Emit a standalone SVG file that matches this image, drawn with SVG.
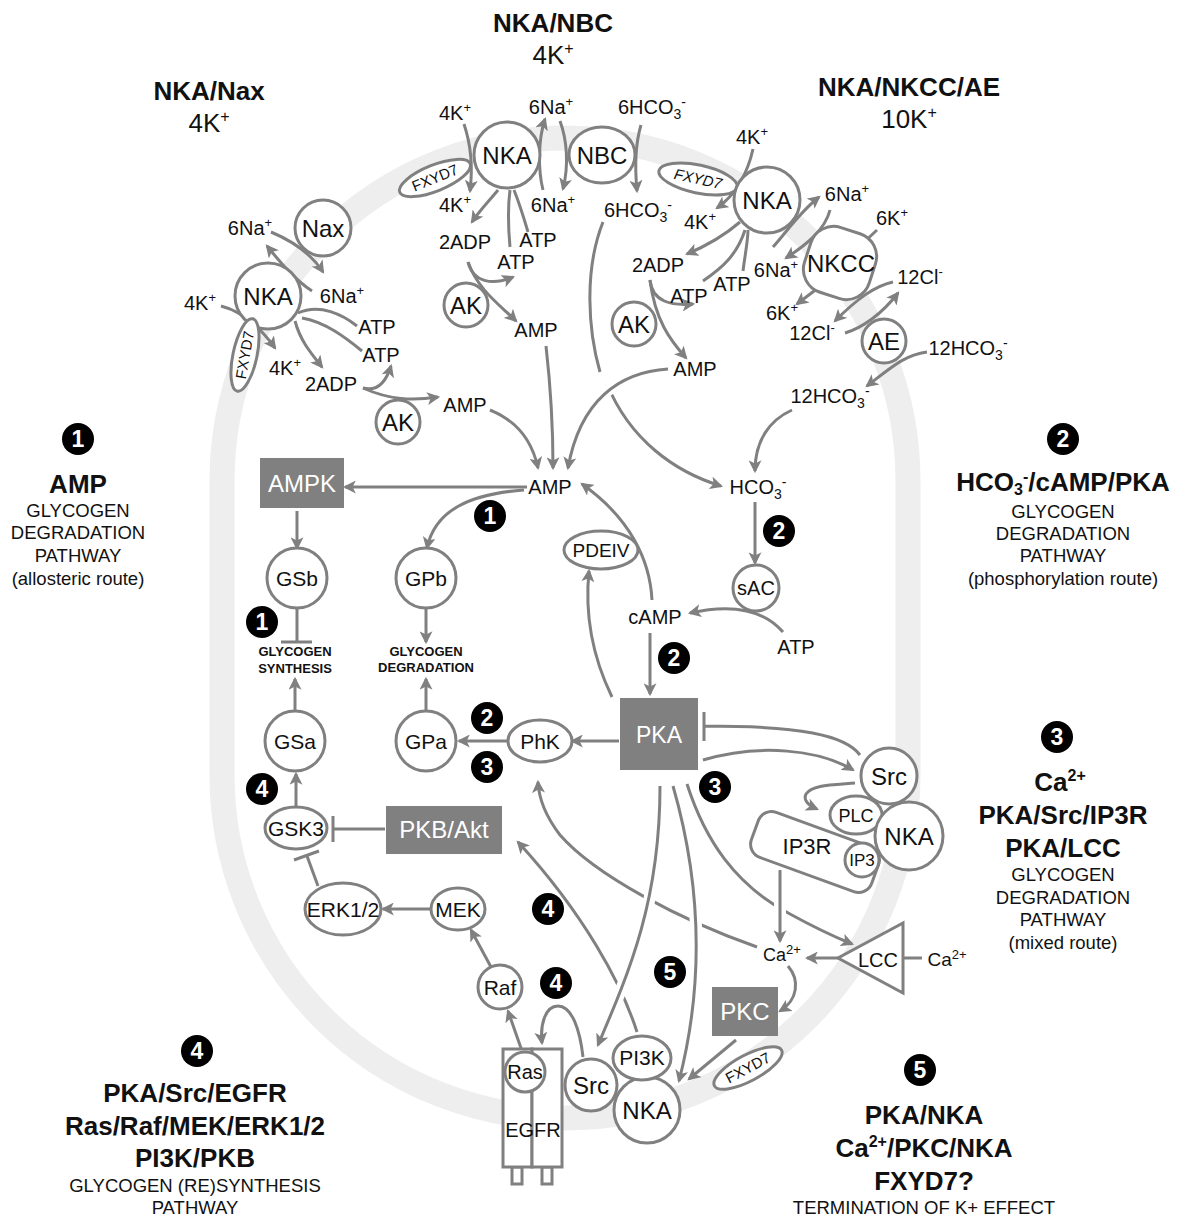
<svg xmlns="http://www.w3.org/2000/svg" width="1187" height="1218" viewBox="0 0 1187 1218">
<defs>
<marker id="ah" viewBox="0 0 12 12" refX="10" refY="6" markerWidth="13" markerHeight="13" markerUnits="userSpaceOnUse" orient="auto">
<path d="M0,0 L12,6 L0,12 L3,6 z" fill="#808080"/>
</marker>
<style>
text{font-family:"Liberation Sans",Arial,Helvetica,sans-serif;fill:#111}
.n{fill:#fff;stroke:#808080;stroke-width:3}
.bx{fill:#808080}
.c{fill:none;stroke:#808080;stroke-width:3}
.a{marker-end:url(#ah)}
.h{fill:none;stroke:#fff;stroke-width:12}
.m{text-anchor:middle}
.l{font-size:20px}
.nd{font-size:24px}
.s{font-size:21px}
.w{fill:#fff}
.bd{font-weight:bold}
.ttl{font-size:26px}
.sub{font-size:18.5px}
.sm{font-size:13px;font-weight:bold}
.fx{font-size:15px}
.bg{fill:#000}
.bn{fill:#fff;font-size:23px;font-weight:bold;text-anchor:middle}
</style>
</defs>
<rect width="1187" height="1218" fill="#fff"/>

<!-- membrane -->
<path id="membrane" d="M 222 481 A 343 343 0 0 1 908 481 L 908 775 A 343 343 0 0 1 222 775 Z" fill="none" stroke="#eeeeee" stroke-width="25"/>

<!-- titles / panels -->
<g id="titles">
<text x="553" y="32" class="m ttl bd">NKA/NBC</text>
<text x="553" y="64" class="m ttl">4K<tspan dy="-10" font-size="16">+</tspan></text>
<text x="209" y="100" class="m ttl bd">NKA/Nax</text>
<text x="209" y="132" class="m ttl">4K<tspan dy="-10" font-size="16">+</tspan></text>
<text x="909" y="96" class="m ttl bd">NKA/NKCC/AE</text>
<text x="909" y="128" class="m ttl">10K<tspan dy="-10" font-size="16">+</tspan></text>
</g>

<g id="panel1">
<circle cx="78" cy="439" r="16" class="bg"/><text x="78" y="447" class="bn">1</text>
<text x="78" y="493" class="m ttl bd">AMP</text>
<text x="78" y="517" class="m sub">GLYCOGEN</text>
<text x="78" y="539" class="m sub">DEGRADATION</text>
<text x="78" y="562" class="m sub">PATHWAY</text>
<text x="78" y="585" class="m sub">(allosteric route)</text>
</g>
<g id="panel2">
<circle cx="1063" cy="439" r="16" class="bg"/><text x="1063" y="447" class="bn">2</text>
<text x="1063" y="491" class="m ttl bd">HCO<tspan dy="4" font-size="16">3</tspan><tspan dy="-13" font-size="16">-</tspan><tspan dy="9">/cAMP/PKA</tspan></text>
<text x="1063" y="518" class="m sub">GLYCOGEN</text>
<text x="1063" y="540" class="m sub">DEGRADATION</text>
<text x="1063" y="562" class="m sub">PATHWAY</text>
<text x="1063" y="585" class="m sub">(phosphorylation route)</text>
</g>
<g id="panel3">
<circle cx="1057" cy="737" r="16" class="bg"/><text x="1057" y="745" class="bn">3</text>
<text x="1060" y="791" class="m ttl bd">Ca<tspan dy="-10" font-size="16">2+</tspan></text>
<text x="1063" y="824" class="m ttl bd">PKA/Src/IP3R</text>
<text x="1063" y="857" class="m ttl bd">PKA/LCC</text>
<text x="1063" y="881" class="m sub">GLYCOGEN</text>
<text x="1063" y="904" class="m sub">DEGRADATION</text>
<text x="1063" y="926" class="m sub">PATHWAY</text>
<text x="1063" y="949" class="m sub">(mixed route)</text>
</g>
<g id="panel4">
<circle cx="197" cy="1051" r="16" class="bg"/><text x="197" y="1059" class="bn">4</text>
<text x="195" y="1102" class="m ttl bd">PKA/Src/EGFR</text>
<text x="195" y="1135" class="m ttl bd">Ras/Raf/MEK/ERK1/2</text>
<text x="195" y="1167" class="m ttl bd">PI3K/PKB</text>
<text x="195" y="1192" class="m sub">GLYCOGEN (RE)SYNTHESIS</text>
<text x="195" y="1214" class="m sub">PATHWAY</text>
</g>
<g id="panel5">
<circle cx="920" cy="1070" r="16" class="bg"/><text x="920" y="1078" class="bn">5</text>
<text x="924" y="1124" class="m ttl bd">PKA/NKA</text>
<text x="924" y="1157" class="m ttl bd">Ca<tspan dy="-10" font-size="16">2+</tspan><tspan dy="10">/PKC/NKA</tspan></text>
<text x="924" y="1190" class="m ttl bd">FXYD7?</text>
<text x="924" y="1214" class="m sub">TERMINATION OF K+ EFFECT</text>
</g>

<!-- connectors -->
<g id="connectors">
<path class="c a" d="M 312 291 C 295 280 280 262 267 246"/>
<path class="c a" d="M 271 232 C 295 242 312 255 323 272"/>
<path class="c a" d="M 221 306 C 245 312 262 330 275 348"/>
<path class="c" d="M 298 313 C 320 303 343 315 357 326"/>
<path class="c" d="M 302 318 C 325 322 345 337 362 351"/>
<path class="c a" d="M 295 321 C 300 340 310 352 322 367"/>
<path class="c a" d="M 363 388 C 378 392 386 382 391 366"/>
<path class="c a" d="M 363 388 C 390 400 412 401 438 397"/>
<path class="c a" d="M 490 410 C 515 420 532 440 538 468"/>
<path class="c a" d="M 464 124 C 471 145 473 167 470 191"/>
<path class="c a" d="M 543 190 C 538 170 538 140 545 119"/>
<path class="c a" d="M 560 121 C 567 140 569 165 563 189"/>
<path class="c a" d="M 641 125 C 635 145 635 170 637 191"/>
<path class="c a" d="M 498 190 C 490 200 480 210 472 222"/>
<path class="c" d="M 510 247 C 508 225 508 205 510 190"/>
<path class="c" d="M 528 232 C 523 215 518 200 514 190"/>
<path class="c a" d="M 468 262 C 473 282 492 286 513 277"/>
<path class="c a" d="M 468 262 C 478 290 500 305 516 321"/>
<path class="c a" d="M 546 346 C 551 390 553 430 553 468"/>
<path class="c a" d="M 753 149 C 748 172 736 195 717 208"/>
<path class="c a" d="M 773 247 C 788 230 800 212 819 197"/>
<path class="c a" d="M 830 210 C 825 230 806 245 786 258"/>
<path class="c" d="M 877 230 L 862 244"/>
<path class="c a" d="M 818 288 L 797 304"/>
<path class="c a" d="M 893 282 C 875 286 858 298 835 321"/>
<path class="c a" d="M 845 333 C 862 328 882 314 898 293"/>
<path class="c a" d="M 927 352 C 905 355 893 366 867 386"/>
<path class="c a" d="M 740 222 C 725 235 706 246 687 254"/>
<path class="c" d="M 703 281 C 722 268 737 255 745 230"/>
<path class="c" d="M 743 271 C 745 255 748 240 748 230"/>
<path class="c a" d="M 650 280 C 652 302 672 306 693 304"/>
<path class="c a" d="M 650 280 C 655 320 670 340 686 358"/>
<path class="c" d="M 603 222 C 584 270 588 330 600 372"/>
<path class="c a" d="M 607 384 C 630 440 675 472 721 486"/>
<path class="h" d="M 668 369 C 620 372 582 400 572 450"/>
<path class="c a" d="M 668 369 C 620 372 580 400 568 468"/>
<path class="c a" d="M 792 410 C 770 420 755 440 755 471"/>
<path class="c a" d="M 527 487 L 345 487"/>
<path class="c a" d="M 524 490 C 470 494 435 510 427 548"/>
<path class="c a" d="M 297 511 L 297 548"/>
<path class="c" d="M 297 609 L 297 642 M 281 642 L 312 642"/>
<path class="c a" d="M 295 710 L 295 679"/>
<path class="c a" d="M 426 609 L 426 642"/>
<path class="c a" d="M 426 710 L 426 679"/>
<path class="c a" d="M 755 502 L 755 563"/>
<path class="c a" d="M 783 632 C 762 608 730 604 690 613"/>
<path class="c a" d="M 650 633 L 650 694"/>
<path class="c a" d="M 652 600 C 650 560 630 518 582 484"/>
<path class="c a" d="M 612 697 C 594 660 584 620 589 571"/>
<path class="c a" d="M 619 741 L 572 741"/>
<path class="c a" d="M 508 741 L 459 741"/>
<path class="c a" d="M 296 807 L 296 774"/>
<path class="c" d="M 385 829 L 334 829 M 333 816 L 333 842"/>
<path class="c" d="M 318 886 L 307 856 M 294 860 L 319 851"/>
<path class="c a" d="M 430 909 L 383 909"/>
<path class="c a" d="M 491 967 L 471 930"/>
<path class="c a" d="M 522 1051 L 508 1011"/>
<path class="c a" d="M 583 1057 C 580 1030 572 1006 558 1006 C 545 1006 540 1025 542 1043"/>
<path class="c a" d="M 757 947 C 680 920 595 875 560 835 C 547 818 539 802 538 782"/>
<path class="c a" d="M 637 1032 C 622 985 585 915 518 842"/>
<path class="h" d="M 660 800 C 660 900 630 970 602 1035"/>
<path class="c a" d="M 660 786 C 660 900 630 970 598 1045"/>
<path class="h" d="M 673 800 C 700 880 705 980 682 1070"/>
<path class="c a" d="M 673 786 C 700 880 705 980 679 1081"/>
<path class="c a" d="M 687 784 C 705 840 735 885 790 914 C 810 925 830 935 852 944"/>
<path class="h" d="M 780 872 L 780 930"/>
<path class="c a" d="M 780 870 L 780 941"/>
<path class="c a" d="M 703 760 C 760 743 820 750 853 770"/>
<path class="c" d="M 860 755 C 845 735 800 726 705 726 M 704 712 L 704 741"/>
<path class="c a" d="M 855 783 C 830 785 812 785 806 794 C 803 800 808 805 817 809"/>
<path class="c a" d="M 838 958 L 807 958"/>
<path class="c" d="M 903 958 L 922 958"/>
<path class="c a" d="M 788 966 C 800 980 798 1000 780 1011"/>
<path class="c a" d="M 736 1040 L 689 1079"/>
</g>

<g id="nax"><circle cx="323" cy="228" r="28" class="n"/><text x="323" y="237" class="m nd">Nax</text></g>
<g id="nka1"><circle cx="268" cy="296" r="33" class="n"/><text x="268" y="305" class="m nd">NKA</text></g>
<g id="fxyd7a"><ellipse cx="245" cy="355" rx="37" ry="12" transform="rotate(-78 245 355)" class="n"/><text x="245" y="360" class="m fx" transform="rotate(-80 245 355)">FXYD7</text></g>
<g id="ak1"><circle cx="398" cy="422" r="22" class="n"/><text x="398" y="431" class="m nd">AK</text></g>
<g id="lbl-tl">
<text x="250" y="235" class="m l">6Na<tspan dy="-8" font-size="13">+</tspan></text>
<text x="342" y="303" class="m l">6Na<tspan dy="-8" font-size="13">+</tspan></text>
<text x="200" y="310" class="m l">4K<tspan dy="-8" font-size="13">+</tspan></text>
<text x="285" y="375" class="m l">4K<tspan dy="-8" font-size="13">+</tspan></text>
<text x="377" y="334" class="m l">ATP</text>
<text x="381" y="362" class="m l">ATP</text>
<text x="331" y="391" class="m l">2ADP</text>
<text x="465" y="412" class="m l">AMP</text>
</g>

<g id="fxyd7b"><ellipse cx="435" cy="178" rx="38" ry="13" transform="rotate(-22 435 178)" class="n"/><text x="435" y="183" class="m fx" transform="rotate(-22 435 178)">FXYD7</text></g>
<g id="nka2"><circle cx="507" cy="155" r="33" class="n"/><text x="507" y="164" class="m nd">NKA</text></g>
<g id="nbc"><ellipse cx="602" cy="155" rx="33" ry="28" class="n"/><text x="602" y="164" class="m nd">NBC</text></g>
<g id="ak2"><circle cx="466" cy="305" r="22" class="n"/><text x="466" y="314" class="m nd">AK</text></g>
<g id="lbl-tc">
<text x="455" y="120" class="m l">4K<tspan dy="-8" font-size="13">+</tspan></text>
<text x="551" y="114" class="m l">6Na<tspan dy="-8" font-size="13">+</tspan></text>
<text x="652" y="114" class="m l">6HCO<tspan dy="5" font-size="14">3</tspan><tspan dy="-12" font-size="14">-</tspan></text>
<text x="455" y="212" class="m l">4K<tspan dy="-8" font-size="13">+</tspan></text>
<text x="553" y="212" class="m l">6Na<tspan dy="-8" font-size="13">+</tspan></text>
<text x="638" y="217" class="m l">6HCO<tspan dy="5" font-size="14">3</tspan><tspan dy="-12" font-size="14">-</tspan></text>
<text x="465" y="249" class="m l">2ADP</text>
<text x="538" y="247" class="m l">ATP</text>
<text x="516" y="269" class="m l">ATP</text>
<text x="536" y="337" class="m l">AMP</text>
</g>

<g id="fxyd7c"><ellipse cx="698" cy="179" rx="40" ry="14" transform="rotate(12 698 179)" class="n"/><text x="698" y="184" class="m fx" transform="rotate(12 698 179)" font-style="italic">FXYD7</text></g>
<g id="nka3"><circle cx="767" cy="200" r="33" class="n"/><text x="767" y="209" class="m nd">NKA</text></g>
<g id="nkcc"><rect x="806" y="229" width="68" height="68" rx="24" transform="rotate(18 840 263)" class="n"/><text x="841" y="272" class="m nd">NKCC</text></g>
<g id="ae"><circle cx="884" cy="341" r="22" class="n"/><text x="884" y="350" class="m nd">AE</text></g>
<g id="ak3"><circle cx="634" cy="324" r="22" class="n"/><text x="634" y="333" class="m nd">AK</text></g>
<g id="lbl-tr">
<text x="752" y="144" class="m l">4K<tspan dy="-8" font-size="13">+</tspan></text>
<text x="700" y="229" class="m l">4K<tspan dy="-8" font-size="13">+</tspan></text>
<text x="847" y="201" class="m l">6Na<tspan dy="-8" font-size="13">+</tspan></text>
<text x="892" y="225" class="m l">6K<tspan dy="-8" font-size="13">+</tspan></text>
<text x="776" y="277" class="m l">6Na<tspan dy="-8" font-size="13">+</tspan></text>
<text x="658" y="272" class="m l">2ADP</text>
<text x="689" y="303" class="m l">ATP</text>
<text x="732" y="291" class="m l">ATP</text>
<text x="920" y="284" class="m l">12Cl<tspan dy="-8" font-size="13">-</tspan></text>
<text x="782" y="320" class="m l">6K<tspan dy="-8" font-size="13">+</tspan></text>
<text x="812" y="340" class="m l">12Cl<tspan dy="-8" font-size="13">-</tspan></text>
<text x="968" y="355" class="m l">12HCO<tspan dy="5" font-size="14">3</tspan><tspan dy="-12" font-size="14">-</tspan></text>
<text x="830" y="403" class="m l">12HCO<tspan dy="5" font-size="14">3</tspan><tspan dy="-12" font-size="14">-</tspan></text>
<text x="695" y="376" class="m l">AMP</text>
</g>

<g id="amp"><text x="550" y="494" class="m l">AMP</text></g>
<g id="hco3"><text x="758" y="494" class="m l">HCO<tspan dy="5" font-size="14">3</tspan><tspan dy="-12" font-size="14">-</tspan></text></g>
<g id="ampk"><rect x="260" y="458" width="84" height="50" class="bx"/><text x="302" y="492" class="m nd w">AMPK</text></g>
<g id="gsb"><circle cx="297" cy="578" r="30" class="n"/><text x="297" y="586" class="m s">GSb</text></g>
<g id="gpb"><circle cx="426" cy="578" r="30" class="n"/><text x="426" y="586" class="m s">GPb</text></g>
<g id="gsyn"><text x="295" y="656" class="m sm">GLYCOGEN</text><text x="295" y="673" class="m sm">SYNTHESIS</text></g>
<g id="gdeg"><text x="426" y="656" class="m sm">GLYCOGEN</text><text x="426" y="672" class="m sm">DEGRADATION</text></g>
<g id="gsa"><circle cx="295" cy="741" r="30" class="n"/><text x="295" y="749" class="m s">GSa</text></g>
<g id="gpa"><circle cx="426" cy="741" r="30" class="n"/><text x="426" y="749" class="m s">GPa</text></g>
<g id="phk"><ellipse cx="540" cy="741" rx="32" ry="21" class="n"/><text x="540" y="749" class="m s">PhK</text></g>
<g id="pdeiv"><ellipse cx="601" cy="550" rx="37" ry="19" class="n"/><text x="601" y="557" class="m" font-size="19">PDEIV</text></g>
<g id="camp"><text x="655" y="624" class="m l">cAMP</text></g>
<g id="sac"><circle cx="756" cy="588" r="23" class="n"/><text x="756" y="595" class="m l">sAC</text></g>
<g id="atp-c"><text x="796" y="654" class="m l">ATP</text></g>
<g id="pka"><rect x="620" y="698" width="78" height="72" class="bx"/><text x="659" y="743" class="m w" font-size="23">PKA</text></g>
<g id="gsk3"><ellipse cx="296" cy="828" rx="31" ry="21" class="n"/><text x="296" y="836" class="m s">GSK3</text></g>
<g id="pkb"><rect x="386" y="806" width="116" height="48" class="bx"/><text x="444" y="838" class="m nd w">PKB/Akt</text></g>
<g id="erk"><ellipse cx="343" cy="909" rx="38" ry="26" class="n"/><text x="343" y="917" class="m s">ERK1/2</text></g>
<g id="mek"><ellipse cx="458" cy="909" rx="27" ry="21" class="n"/><text x="458" y="917" class="m s">MEK</text></g>
<g id="raf"><circle cx="500" cy="987" r="22" class="n"/><text x="500" y="995" class="m s">Raf</text></g>

<g id="ip3r"><rect x="751" y="828" width="128" height="48" rx="14" transform="rotate(20 815 852)" class="n"/><text x="807" y="854" class="m" font-size="22">IP3R</text></g>
<g id="plc"><ellipse cx="856" cy="815" rx="26" ry="19" class="n"/><text x="856" y="822" class="m" font-size="18">PLC</text></g>
<g id="ip3"><circle cx="862" cy="860" r="17" class="n"/><text x="862" y="866" class="m" font-size="17">IP3</text></g>
<g id="nka4"><circle cx="909" cy="836" r="34" class="n"/><text x="909" y="845" class="m nd">NKA</text></g>
<g id="src1"><circle cx="889" cy="776" r="28" class="n"/><text x="889" y="785" class="m nd">Src</text></g>
<g id="ca1"><text x="782" y="961" class="m" font-size="18">Ca<tspan dy="-7" font-size="13">2+</tspan></text></g>
<g id="lcc"><polygon points="903,923 903,993 838,958" class="n"/><text x="878" y="967" class="m l">LCC</text></g>
<g id="ca2"><text x="947" y="966" class="m" font-size="19">Ca<tspan dy="-7" font-size="13">2+</tspan></text></g>
<g id="pkc"><rect x="712" y="987" width="66" height="49" class="bx"/><text x="745" y="1020" class="m nd w">PKC</text></g>

<g id="egfr">
<rect x="512" y="1167" width="10" height="17" class="n"/>
<rect x="542" y="1167" width="10" height="17" class="n"/>
<rect x="503" y="1049" width="29" height="118" class="n"/>
<rect x="532" y="1049" width="30" height="118" class="n"/>
<text x="533" y="1137" class="m l">EGFR</text>
</g>
<g id="ras"><circle cx="525" cy="1072" r="20" class="n"/><text x="525" y="1079" class="m l">Ras</text></g>
<g id="src2"><circle cx="591" cy="1085" r="26" class="n"/><text x="591" y="1094" class="m nd">Src</text></g>
<g id="nka5"><circle cx="647" cy="1110" r="33" class="n"/><text x="647" y="1119" class="m nd">NKA</text></g>
<g id="pi3k"><ellipse cx="642" cy="1058" rx="29" ry="22" class="n"/><text x="642" y="1065" class="m s">PI3K</text></g>
<g id="fxyd7d"><ellipse cx="748" cy="1068" rx="38" ry="13" transform="rotate(-28 748 1068)" class="n"/><text x="748" y="1073" class="m fx" transform="rotate(-28 748 1068)">FXYD7</text></g>

<g id="badges">
<circle cx="490" cy="516" r="16" class="bg"/><text x="490" y="524" class="bn">1</text>
<circle cx="262" cy="622" r="16" class="bg"/><text x="262" y="630" class="bn">1</text>
<circle cx="779" cy="531" r="16" class="bg"/><text x="779" y="539" class="bn">2</text>
<circle cx="674" cy="658" r="16" class="bg"/><text x="674" y="666" class="bn">2</text>
<circle cx="487" cy="718" r="16" class="bg"/><text x="487" y="726" class="bn">2</text>
<circle cx="487" cy="767" r="16" class="bg"/><text x="487" y="775" class="bn">3</text>
<circle cx="715" cy="787" r="16" class="bg"/><text x="715" y="795" class="bn">3</text>
<circle cx="262" cy="789" r="16" class="bg"/><text x="262" y="797" class="bn">4</text>
<circle cx="548" cy="909" r="16" class="bg"/><text x="548" y="917" class="bn">4</text>
<circle cx="556" cy="983" r="16" class="bg"/><text x="556" y="991" class="bn">4</text>
<circle cx="670" cy="972" r="16" class="bg"/><text x="670" y="980" class="bn">5</text>
</g>
</svg>
